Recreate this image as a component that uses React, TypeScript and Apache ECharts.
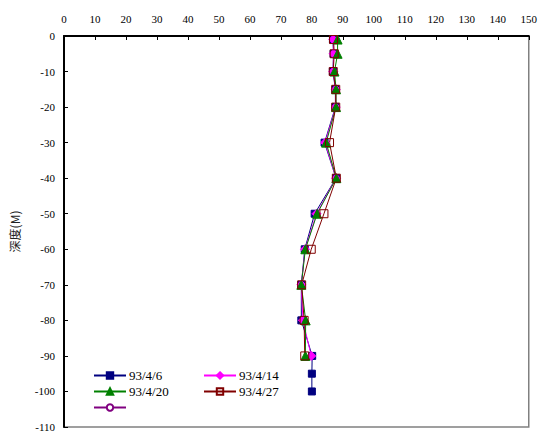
import React, { useEffect, useRef } from "react";
import * as echarts from "echarts";

const depthsMain = [-1, -5, -10, -15, -20, -30, -40, -50, -60, -70, -80, -90];
const depthsBlue = [-1, -5, -10, -15, -20, -30, -40, -50, -60, -70, -80, -90, -95, -100];
const v0406 = [86.8, 87.0, 86.8, 87.6, 87.6, 84.1, 87.8, 80.9, 77.7, 76.6, 76.6, 80.1, 80.0, 80.0];
const v0414 = [86.9, 87.0, 86.9, 87.7, 87.7, 84.3, 87.8, 81.5, 77.8, 76.6, 77.1, 79.8];
const v0420 = [88.3, 88.3, 87.3, 87.8, 87.8, 84.6, 87.9, 81.7, 77.9, 76.6, 78.0, 77.9];
const v0427 = [87.0, 87.2, 86.9, 87.7, 87.7, 85.7, 87.9, 83.9, 79.8, 76.7, 77.5, 77.7];
const v5th: number[] = [];

const names = ["93/4/6", "93/4/14", "93/4/20", "93/4/27", " "];

function pairs(vals: number[], depths: number[]) {
  return vals.map((v, i) => [v, depths[i]]);
}

export default function App() {
  const ref = useRef<HTMLDivElement>(null);
  useEffect(() => {
    if (!ref.current) return;
    const chart = echarts.init(ref.current, undefined, { renderer: "svg" });
    const serif = "'Liberation Serif', 'Times New Roman', serif";
    const mk = (name: string, data: number[][], color: string, symbol: string, size: number, fill?: string) => ({
      name,
      type: "line",
      data,
      symbol,
      symbolSize: size,
      lineStyle: { color, width: 1 },
      itemStyle: { color: fill ?? color, borderColor: color, borderWidth: 1 },
      emphasis: { disabled: true },
    });
    const legendText = { fontFamily: serif, fontSize: 13, color: "#000", lineHeight: 15, padding: [0, 0, 0, -2] };
    chart.setOption({
      animation: false,
      grid: {
        left: 61,
        top: 36,
        right: 11,
        bottom: 7,
        show: true,
        borderColor: "#808080",
        borderWidth: 1.5,
        backgroundColor: "transparent",
      },
      legend: [
        {
          data: [names[0], names[2], names[4]],
          orient: "vertical",
          left: 93,
          top: 368,
          itemWidth: 32,
          itemHeight: 8,
          itemGap: 1,
          textStyle: legendText,
          padding: 0,
        },
        {
          data: [names[1], names[3]],
          orient: "vertical",
          left: 203,
          top: 368,
          itemWidth: 32,
          itemHeight: 8,
          itemGap: 1,
          textStyle: legendText,
          padding: 0,
        },
      ],
      xAxis: {
        type: "value",
        position: "top",
        min: 0,
        max: 150,
        interval: 10,
        axisLine: { show: true, lineStyle: { color: "#000", width: 2 } },
        axisTick: { show: true, inside: true, length: 4, lineStyle: { color: "#000" } },
        axisLabel: { fontFamily: serif, fontSize: 11, color: "#000", margin: 12 },
        splitLine: { show: false },
      },
      yAxis: {
        type: "value",
        min: -110,
        max: 0,
        interval: 10,
        name: "深度(M)",
        nameLocation: "middle",
        nameGap: 44,
        nameRotate: 90,
        nameTextStyle: { fontFamily: "'Noto Sans CJK TC', sans-serif", fontSize: 12, color: "#222" },
        axisLine: { show: true, onZero: false, lineStyle: { color: "#000", width: 2 } },
        axisTick: { show: true, inside: true, length: 4, lineStyle: { color: "#000" } },
        axisLabel: { fontFamily: serif, fontSize: 11, color: "#000", margin: 9 },
        splitLine: { show: false },
      },
      series: [
        mk(names[0], pairs(v0406, depthsBlue), "#000080", "rect", 7),
        mk(names[1], pairs(v0414, depthsMain), "#ff00ff", "diamond", 9),
        mk(names[2], pairs(v0420, depthsMain), "#008000", "triangle", 9),
        mk(names[3], pairs(v0427, depthsMain), "#800000", "rect", 8, "rgba(255,255,255,0)"),
        mk(names[4], pairs(v5th, depthsMain), "#800080", "circle", 8, "#ffffff"),
      ],
    });
    return () => chart.dispose();
  }, []);
  return (
    <div
      ref={ref}
      style={{ position: "fixed", left: 0, top: 0, width: 540, height: 434, background: "#fff" }}
    />
  );
}
